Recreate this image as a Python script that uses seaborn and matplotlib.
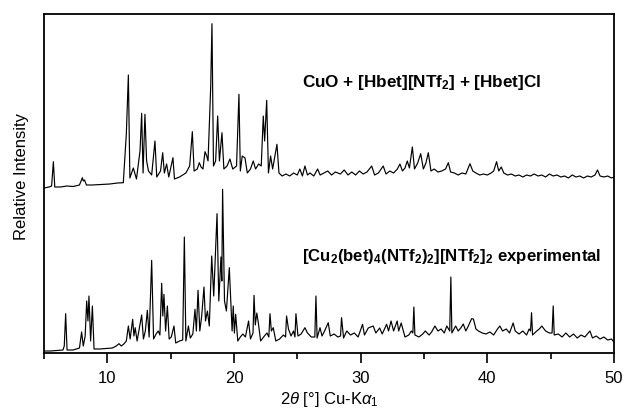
import matplotlib
matplotlib.use("Agg")
import matplotlib.pyplot as plt
import seaborn as sns
import pandas as pd

# ---- data (2theta in degrees, relative intensity, arbitrary units) ----
top_2theta = [5.0, 5.4, 5.6, 5.74, 5.85, 6.3, 6.8, 7.3, 7.8, 8.03, 8.1, 8.2, 8.35, 8.8, 9.5, 10.2, 10.8,
              11.26, 11.5, 11.66, 11.78, 12.05, 12.3, 12.58, 12.71, 12.82, 12.97, 13.1, 13.25, 13.5, 13.76,
              13.9, 14.2, 14.37, 14.5, 14.68, 14.85, 15.18, 15.3, 15.7, 16.2, 16.5, 16.71, 16.85, 17.1,
              17.26, 17.4, 17.55, 17.71, 17.85, 17.95, 18.16, 18.26, 18.38, 18.55, 18.71, 18.85, 19.05,
              19.2, 19.45, 19.68, 19.9, 20.2, 20.39, 20.5, 20.65, 20.87, 21.05, 21.3, 21.52, 21.7, 21.95,
              22.15, 22.31, 22.42, 22.58, 22.72, 22.89, 23.05, 23.2, 23.39, 23.55, 23.8, 24.1, 24.4, 24.7,
              25.0, 25.2, 25.4, 25.6, 25.8, 26.0, 26.3, 26.6, 26.8, 27.1, 27.4, 27.7, 28.0, 28.4, 28.7,
              29.0, 29.3, 29.6, 29.9, 30.2, 30.5, 30.87, 31.1, 31.4, 31.78, 32.0, 32.3, 32.6, 32.9, 33.1,
              33.3, 33.5, 33.68, 33.85, 34.08, 34.25, 34.5, 34.74, 34.95, 35.15, 35.34, 35.55, 35.8, 36.1,
              36.4, 36.7, 36.92, 37.1, 37.4, 37.7, 38.0, 38.3, 38.63, 38.85, 39.1, 39.4, 39.7, 40.0, 40.3,
              40.5, 40.73, 40.9, 41.1, 41.3, 41.6, 41.9, 42.2, 42.5, 42.8, 43.1, 43.4, 43.7, 44.0, 44.3,
              44.6, 44.9, 45.2, 45.5, 45.8, 46.1, 46.4, 46.7, 47.0, 47.3, 47.6, 47.9, 48.2, 48.5, 48.7,
              48.9, 49.2, 49.5, 49.8, 50.0]
top_intensity = [165, 166, 167, 191.3, 166, 166, 167, 166.5, 168, 175.3, 172, 173, 168, 168, 168.5, 169, 170,
                 170.3, 219, 278, 175, 185, 174, 202, 239.7, 180, 238.7, 192, 182, 178, 212,
                 176, 182, 200.3, 180, 189, 176, 195.3, 174, 176, 180, 187, 221.3, 182, 184,
                 190.3, 186, 184, 201.3, 197, 192, 266, 329.3, 187, 192, 237, 192, 220.3,
                 184, 187, 194, 184, 187, 258.7, 182, 197, 195, 180, 184, 192, 184, 189,
                 187, 237, 212, 252.7, 180, 197, 184, 195, 208.7, 180, 177, 179, 177, 180,
                 178, 184, 177, 187, 178, 180, 177, 184, 178, 180, 182, 178, 181, 179, 183,
                 178, 181, 178, 182, 179, 181, 187, 178, 180, 187, 179, 182, 180, 184, 189,
                 182, 185, 192, 185, 206, 184, 190, 199.3, 184, 190, 200.3, 182, 184, 181,
                 182, 184, 190.3, 181, 180, 178, 180, 179, 189.3, 182, 180, 178, 179, 178, 180,
                 182, 191.3, 182, 186, 180, 178, 179, 177, 178, 176, 178, 177, 179, 177, 178,
                 176, 179, 177, 178, 176, 177, 175, 178, 176, 177, 175, 177, 176, 178, 183,
                 177, 176, 177, 175, 176]

bottom_2theta = [5.0, 5.5, 6.0, 6.5, 6.6, 6.71, 6.82, 7.3, 7.8, 7.97, 8.1, 8.25, 8.37, 8.47, 8.55, 8.68,
                 8.82, 8.95, 9.4, 9.9, 10.4, 10.7, 10.92, 11.1, 11.3, 11.5, 11.66, 11.8, 12.0, 12.1, 12.2,
                 12.35, 12.71, 12.85, 13.0, 13.16, 13.3, 13.5, 13.65, 13.85, 14.02, 14.15, 14.29, 14.38,
                 14.47, 14.6, 14.74, 14.88, 15.05, 15.26, 15.4, 15.7, 15.95, 16.08, 16.2, 16.4, 16.55,
                 16.75, 16.92, 17.03, 17.16, 17.3, 17.45, 17.63, 17.75, 17.9, 18.05, 18.24, 18.4, 18.66,
                 18.8, 18.97, 19.04, 19.1, 19.25, 19.4, 19.63, 19.75, 19.85, 19.94, 20.03, 20.13, 20.3,
                 20.5, 20.7, 20.9, 21.15, 21.3, 21.5, 21.58, 21.68, 21.8, 21.92, 22.1, 22.4, 22.6, 22.75,
                 22.84, 22.95, 23.1, 23.3, 23.6, 23.9, 24.07, 24.15, 24.3, 24.5, 24.7, 24.81, 24.89,
                 25.05, 25.3, 25.6, 25.8, 26.1, 26.38, 26.47, 26.56, 26.79, 26.95, 27.15, 27.44, 27.6,
                 27.9, 28.2, 28.41, 28.49, 28.65, 28.9, 29.2, 29.5, 29.8, 30.15, 30.3, 30.6, 30.99, 31.2,
                 31.5, 31.7, 32.05, 32.2, 32.4, 32.6, 32.88, 33.0, 33.2, 33.5, 33.8, 34.0, 34.12, 34.2,
                 34.28, 34.6, 34.9, 35.1, 35.4, 35.6, 35.86, 36.1, 36.35, 36.6, 36.8, 37.03, 37.12, 37.2,
                 37.5, 37.7, 37.9, 38.1, 38.3, 38.5, 38.76, 38.9, 39.1, 39.3, 39.6, 39.9, 40.2, 40.5,
                 40.8, 40.99, 41.2, 41.5, 41.75, 42.04, 42.2, 42.5, 42.8, 43.1, 43.3, 43.41, 43.49, 43.57,
                 43.9, 44.1, 44.3, 44.6, 44.9, 45.11, 45.2, 45.28, 45.6, 45.9, 46.2, 46.5, 46.8, 47.1,
                 47.4, 47.7, 48.1, 48.3, 48.6, 48.9, 49.2, 49.5, 49.8, 50.0]
bottom_intensity = [2, 2, 2.5, 3, 7, 39.3, 3, 3, 5, 21, 7, 17, 52, 32, 57, 12,
                    47, 4, 4, 4.5, 5, 7, 9.3, 7, 9, 12, 27, 14, 33.7, 17, 25.3,
                    12, 38, 14, 22, 42.7, 16, 92.7, 14, 19, 22, 18, 69.7, 37,
                    58.7, 22, 47, 14, 16, 27, 10, 12, 13, 116, 12, 27, 15,
                    19, 43.7, 22, 62.7, 22, 37, 66, 32, 42, 27, 97, 57, 139.3,
                    52, 96, 72, 163.7, 52, 42, 85.3, 52, 22, 47, 20, 38.7, 12,
                    16, 19, 16, 32, 14, 20, 57.7, 28, 40, 30.3, 12, 17, 20, 16,
                    39.3, 22, 25.3, 12, 14, 18, 16, 37, 24, 17, 22, 16, 39.3,
                    17, 19, 25.3, 20, 16, 16, 57, 15, 25.3, 17, 22, 30.3, 17,
                    19, 16, 17, 35.3, 15, 22, 18, 20, 16, 28.7, 18, 25, 27, 20,
                    25, 19, 28.7, 22, 32, 22, 32, 22, 30, 16, 18, 22, 20, 46,
                    18, 16, 19, 22, 18, 21, 27, 22, 24, 20, 27, 22, 76, 20,
                    27, 22, 25, 29, 22, 27, 34.3, 34, 24, 22, 20, 19, 21, 18,
                    24, 27, 22, 24, 20, 30, 22, 19, 22, 18, 24, 22, 40.3, 18,
                    22, 24, 27, 22, 20, 20, 47, 18, 19, 16, 20, 16, 19, 15,
                    18, 16, 22, 15, 17, 14, 16, 13, 14, 11]

x_ticks = [10, 20, 30, 40, 50]
x_minor = [5, 15, 25, 35, 45]
label_top = r"CuO + [Hbet][NTf$_{\mathbf{2}}$] + [Hbet]Cl"
label_bottom = (r"[Cu$_{\mathbf{2}}$(bet)$_{\mathbf{4}}$(NTf$_{\mathbf{2}}$)$_{\mathbf{2}}$]"
                r"[NTf$_{\mathbf{2}}$]$_{\mathbf{2}}$ experimental")
x_label = r"2$\mathit{\theta}$ [°] Cu-K$\mathit{\alpha}_{1}$"
y_label = "Relative Intensity"

# ---- styling ----
sns.set_style("ticks")
plt.rcParams["font.family"] = ["Liberation Sans", "DejaVu Sans"]
plt.rcParams["mathtext.fontset"] = "custom"
plt.rcParams["mathtext.rm"] = "Liberation Sans"
plt.rcParams["mathtext.it"] = "Liberation Sans:italic"
plt.rcParams["mathtext.bf"] = "Liberation Sans:bold"
plt.rcParams["text.color"] = "black"
plt.rcParams["axes.labelcolor"] = "black"
plt.rcParams["xtick.color"] = "black"
plt.rcParams["xtick.labelcolor"] = "black"

fig = plt.figure(figsize=(6.24, 4.13), dpi=100)
ax = fig.add_axes([44 / 624, (413 - 353) / 413, 570 / 624, 339 / 413])

df_top = pd.DataFrame({"two_theta": top_2theta, "intensity": top_intensity})
df_bot = pd.DataFrame({"two_theta": bottom_2theta, "intensity": bottom_intensity})
sns.lineplot(data=df_top, x="two_theta", y="intensity", ax=ax, color="black",
             lw=0.85, sort=False, estimator=None)
sns.lineplot(data=df_bot, x="two_theta", y="intensity", ax=ax, color="black",
             lw=0.85, sort=False, estimator=None)

ax.set_xlim(5, 50)
ax.set_ylim(0, 339)
ax.set_xticks(x_ticks)
ax.set_xticks(x_minor, minor=True)
ax.set_yticks([])
ax.tick_params(axis="x", which="major", direction="out", length=7, width=1.2,
               labelsize=12, pad=6, colors="black")
ax.tick_params(axis="x", which="minor", direction="out", length=4, width=1.2)
for s in ax.spines.values():
    s.set_visible(True)
    s.set_linewidth(1.3)
    s.set_color("black")

ax.set_xlabel(x_label, fontsize=12, labelpad=3)
ax.set_ylabel(y_label, fontsize=12)
ax.yaxis.set_label_coords(-0.026, 0.52)

ax.text(25.35, 270, label_top, fontsize=12.3, fontweight="bold", va="center", ha="left")
ax.text(25.35, 97, label_bottom, fontsize=12.1, fontweight="bold", va="center", ha="left")

fig.savefig("out.png", dpi=100)
